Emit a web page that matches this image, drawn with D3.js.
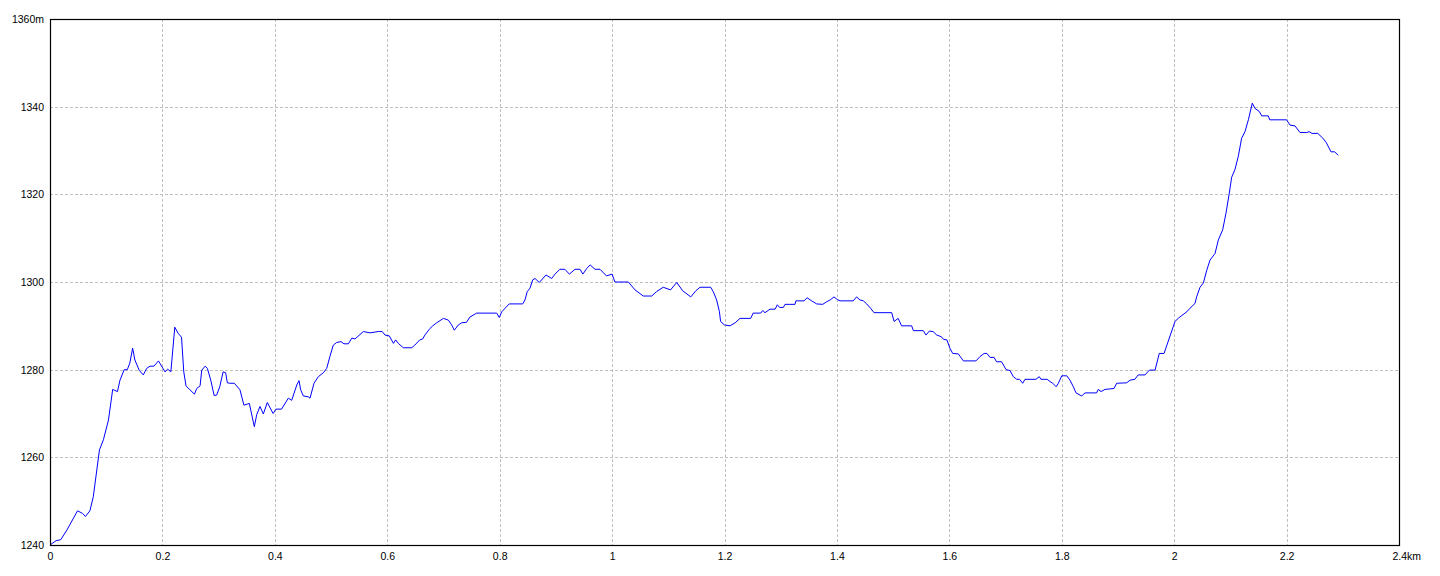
<!DOCTYPE html>
<html>
<head>
<meta charset="utf-8">
<script src="https://cdn.jsdelivr.net/npm/d3@7"></script>
<style>
  html, body { margin: 0; padding: 0; background: #fff; }
  svg { display: block; }
  .tick text { font-family: "Liberation Sans", Arial, sans-serif; font-size: 10.5px; fill: #000; }
</style>
</head>
<body>
<svg id="chart" width="1440" height="576"></svg>
<script>
// Distance along track (km)
const dist = [
  0, 0.011, 0.019, 0.030, 0.049, 0.058, 0.063, 0.071, 0.077, 0.088, 0.095, 0.104, 0.1115, 0.120, 0.1245,
  0.132, 0.1375, 0.142, 0.147, 0.151, 0.159, 0.166, 0.172, 0.178, 0.185, 0.193, 0.2046, 0.2093, 0.215,
  0.222, 0.228, 0.234, 0.238, 0.242, 0.249, 0.257, 0.261, 0.267, 0.270, 0.276, 0.280, 0.286, 0.292,
  0.2965, 0.302, 0.308, 0.3125, 0.3155, 0.320, 0.328, 0.338, 0.345, 0.3546, 0.3635, 0.3677, 0.3736,
  0.3796, 0.3866, 0.397, 0.402, 0.412, 0.424, 0.430, 0.439, 0.443, 0.446, 0.4507, 0.4596, 0.4626,
  0.4697, 0.4774, 0.4863, 0.4923, 0.498, 0.504, 0.510, 0.5177, 0.523, 0.5308, 0.537, 0.5426, 0.5575,
  0.5693, 0.584, 0.591, 0.596, 0.6037, 0.611, 0.615, 0.6197, 0.6286, 0.6435, 0.649, 0.658, 0.663,
  0.667, 0.676, 0.681, 0.688, 0.700, 0.7087, 0.7146, 0.7193, 0.7264, 0.7324, 0.741, 0.747, 0.759,
  0.7947, 0.7993, 0.8036, 0.817, 0.841, 0.845, 0.849, 0.854, 0.8588, 0.863, 0.8705, 0.8825, 0.8925,
  0.8985, 0.907, 0.916, 0.924, 0.934, 0.943, 0.948, 0.955, 0.961, 0.9696, 0.9785, 0.990, 1.000,
  1.005, 1.029, 1.0408, 1.0555, 1.0705, 1.079, 1.091, 1.104, 1.115, 1.1256, 1.14, 1.149, 1.1564,
  1.1754, 1.18, 1.186, 1.191, 1.193, 1.2, 1.21, 1.219, 1.2276, 1.2466, 1.251, 1.2644, 1.268, 1.272,
  1.281, 1.29, 1.294, 1.298, 1.3047, 1.3076, 1.3254, 1.327, 1.3414, 1.347, 1.355, 1.364, 1.3747,
  1.382, 1.389, 1.3948, 1.4007, 1.4055, 1.429, 1.435, 1.441, 1.447, 1.453, 1.460, 1.466, 1.4975,
  1.5017, 1.509, 1.515, 1.533, 1.536, 1.5536, 1.5585, 1.5644, 1.571, 1.5776, 1.586, 1.5898, 1.5956,
  1.601, 1.606, 1.616, 1.625, 1.6474, 1.6546, 1.662, 1.667, 1.6724, 1.6796, 1.684, 1.693, 1.701,
  1.708, 1.7138, 1.72, 1.725, 1.7305, 1.7346, 1.754, 1.760, 1.763, 1.774, 1.779, 1.784, 1.79, 1.794,
  1.800, 1.809, 1.8147, 1.8206, 1.8254, 1.8355, 1.8414, 1.862, 1.865, 1.870, 1.877, 1.893, 1.8977,
  1.9155, 1.9215, 1.930, 1.936, 1.948, 1.956, 1.966, 1.9735, 1.982, 2.0015, 2.008, 2.0224, 2.028,
  2.037, 2.04, 2.046, 2.052, 2.058, 2.0638, 2.0727, 2.0786, 2.0863, 2.0922, 2.098, 2.1023, 2.108,
  2.114, 2.120, 2.126, 2.132, 2.139, 2.1438, 2.1515, 2.1557, 2.1675, 2.170, 2.2, 2.206, 2.215, 2.224,
  2.236, 2.24, 2.245, 2.2555, 2.2646, 2.2706, 2.279, 2.2855, 2.292
];
// Elevation (m)
const elev = [
  1240, 1241, 1241.2, 1243.4, 1247.8, 1247.2, 1246.5, 1247.8, 1251, 1261.7, 1264, 1268.5, 1275.5, 1275, 1277.6,
  1280, 1280, 1281.5, 1284.9, 1282.2, 1279.8, 1278.8, 1280.3, 1280.8, 1280.8, 1282, 1279.5, 1280.1, 1279.5,
  1289.7, 1288.3, 1287.4, 1279.5, 1276.3, 1275.4, 1274.4, 1275.7, 1276.3, 1279.9, 1280.8, 1280.3, 1277.6, 1274.1,
  1274.2, 1276.1, 1279.5, 1279.3, 1277, 1276.9, 1276.9, 1275.4, 1271.9, 1272.3, 1267, 1269.7, 1271.6,
  1269.9, 1272.5, 1270, 1271, 1271, 1273.5, 1273, 1276.5, 1277.5, 1275.4, 1274, 1273.8, 1273.5,
  1276.9, 1278.4, 1279.3, 1280.3, 1283, 1285.6, 1286.2, 1286.4, 1285.9, 1285.9, 1287.2, 1287, 1288.7,
  1288.4, 1288.7, 1288.7, 1287.9, 1287.7, 1286, 1286.8, 1286, 1285, 1285, 1285.6, 1286.8, 1287,
  1287.9, 1289.4, 1290, 1290.7, 1291.7, 1291.3, 1290.2, 1289, 1290.2, 1290.7, 1290.8, 1292, 1292.9,
  1292.9, 1291.9, 1293.2, 1295, 1295, 1295.9, 1297.8, 1298.6, 1300.5, 1300.8, 1299.9, 1301.6, 1300.8,
  1301.8, 1302.9, 1302.9, 1301.8, 1302.9, 1302.9, 1301.8, 1303.1, 1303.9, 1302.9, 1302.9, 1301.4, 1301.8,
  1300, 1300, 1298.2, 1296.8, 1296.8, 1297.8, 1298.8, 1298.2, 1299.9, 1298, 1296.6, 1298, 1298.8,
  1298.8, 1297.8, 1295.9, 1293.2, 1291, 1290.2, 1290, 1290.7, 1291.7, 1291.7, 1292.9, 1292.9, 1293.5, 1293,
  1293.8, 1293.8, 1294.8, 1294.2, 1294.2, 1294.9, 1294.9, 1295.7, 1295.7, 1296.4, 1295.7, 1295, 1294.9,
  1295.5, 1296, 1296.6, 1296, 1295.7, 1295.7, 1296.6, 1295.9, 1295.7, 1295, 1294, 1293, 1293,
  1291, 1291.7, 1290, 1290, 1288.9, 1288.9, 1287.9, 1288.8, 1288.7, 1287.9, 1287.5, 1286.9, 1286.8,
  1284.9, 1283.7, 1283.6, 1282, 1282, 1283, 1283.7, 1283.7, 1282.8, 1282.8, 1281.8, 1281.8, 1280,
  1279.8, 1278.4, 1277.8, 1277.8, 1276.9, 1277.8, 1277.8, 1278.4, 1277.8, 1277.8, 1277.3, 1276.9, 1276.1, 1276.9,
  1278.6, 1278.6, 1277.6, 1276.1, 1274.7, 1274, 1274.7, 1274.7, 1275.5, 1275, 1275.5, 1275.7, 1276.9,
  1277, 1277.6, 1277.8, 1278.8, 1278.8, 1279.9, 1279.9, 1283.7, 1283.7, 1291, 1291.8, 1293.2, 1294,
  1295.1, 1296.6, 1298.8, 1299.8, 1302.7, 1305, 1306.5, 1309.6, 1311.9, 1315.7, 1320.2, 1323.9, 1325.6,
  1328.6, 1332.8, 1334.3, 1337, 1340.8, 1339.6, 1338.9, 1337.9, 1337.9, 1337, 1337, 1335.8, 1335.6, 1334.1,
  1334.1, 1334.3, 1333.9, 1333.9, 1332.8, 1331.8, 1329.7, 1329.7, 1328.9
];
const xTicks = [0, 0.2, 0.4, 0.6, 0.8, 1, 1.2, 1.4, 1.6, 1.8, 2, 2.2, 2.4];
const yTicks = [1240, 1260, 1280, 1300, 1320, 1340, 1360];
const xUnit = "km";
const yUnit = "m";

const svg = d3.select("#chart");
const margin = { left: 50, right: 41, top: 19, bottom: 31 };
const W = 1440, H = 576;

const x = d3.scaleLinear().domain([0, 2.4]).range([margin.left, W - margin.right]);
const y = d3.scaleLinear().domain([1240, 1360]).range([H - margin.bottom, margin.top]);

// grid
const grid = svg.append("g").attr("stroke", "#c0c0c0").attr("stroke-width", 1)
  .attr("stroke-dasharray", "3,2").attr("shape-rendering", "crispEdges");
grid.selectAll(".vg").data(xTicks.slice(1, -1)).join("line")
  .attr("x1", d => Math.round(x(d)) + 0.5).attr("x2", d => Math.round(x(d)) + 0.5)
  .attr("y1", y(1360)).attr("y2", y(1240));
grid.selectAll(".hg").data(yTicks.slice(1, -1)).join("line")
  .attr("y1", d => Math.round(y(d)) + 0.5).attr("y2", d => Math.round(y(d)) + 0.5)
  .attr("x1", x(0)).attr("x2", x(2.4));

// axes labels
const yAxis = d3.axisLeft(y).tickValues(yTicks).tickSize(0).tickPadding(6)
  .tickFormat(d => d === 1360 ? d + yUnit : String(d));
const gy = svg.append("g").attr("transform", `translate(${margin.left},0)`).call(yAxis);
gy.select(".domain").remove();

const xAxis = d3.axisBottom(x).tickValues(xTicks).tickSize(0).tickPadding(8)
  .tickFormat(d => String(d));
const gx = svg.append("g").attr("transform", `translate(0,${H - margin.bottom})`).call(xAxis);
gx.select(".domain").remove();
// last tick: number centred on the edge, unit appended
gx.selectAll(".tick").filter(d => d === 2.4).select("text")
  .attr("text-anchor", "start").attr("x", -7).text(d => d + xUnit);

// line
const line = d3.line().x((d, i) => x(dist[i])).y((d, i) => y(elev[i]));
svg.append("path").datum(elev)
  .attr("fill", "none").attr("stroke", "#0000ff").attr("stroke-width", 1)
  .attr("d", line);

// frame
svg.append("rect")
  .attr("x", x(0) + 0.5).attr("y", y(1360) + 0.5)
  .attr("width", x(2.4) - x(0)).attr("height", y(1240) - y(1360))
  .attr("fill", "none").attr("stroke", "#000").attr("stroke-width", 1.2);
</script>
</body>
</html>
